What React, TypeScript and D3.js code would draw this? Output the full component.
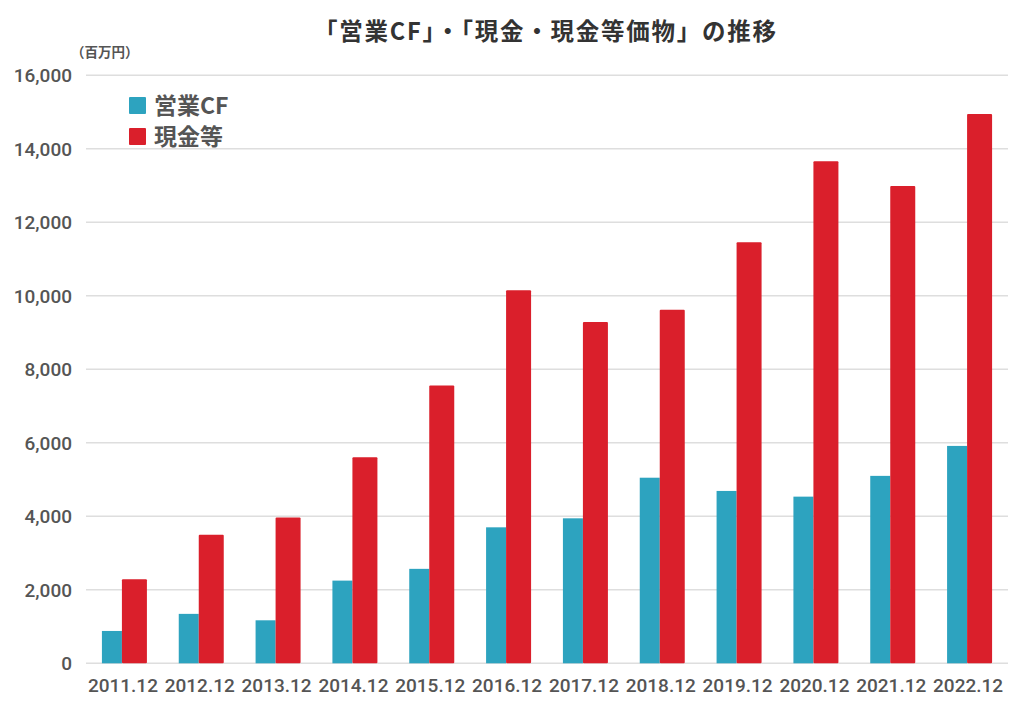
import React from "react";
import * as d3 from "d3";

const categories = ["2011.12","2012.12","2013.12","2014.12","2015.12","2016.12","2017.12","2018.12","2019.12","2020.12","2021.12","2022.12"];
const operatingCF = [880, 1345, 1170, 2250, 2570, 3700, 3945, 5050, 4690, 4535, 5100, 5915];
const cashEq = [2290, 3500, 3970, 5610, 7560, 10150, 9290, 9620, 11455, 13660, 12990, 14945];
const yTicks = [0, 2000, 4000, 6000, 8000, 10000, 12000, 14000, 16000];
const seriesNames = ["営業CF", "現金等"];
const colors = ["#2DA3BF", "#DA1F2B"];
const title = "「営業CF」・「現金・現金等価物」の推移";
const unitLabel = "（百万円）";

const W = 1024, H = 709;
const left = 86, right = 1008, top = 75.3, bottom = 663.3;

export default function App() {
  const x = d3.scaleBand<string>().domain(categories).range([left, right]).padding(0);
  const y = d3.scaleLinear().domain([0, 16000]).range([bottom, top]);
  const fmt = d3.format(",");
  const jp = "'Noto Sans CJK JP', 'Noto Sans', sans-serif";
  const num = "Roboto, 'Liberation Sans', sans-serif";
  return (
    <svg width={W} height={H} style={{ position: "absolute", left: 0, top: 0, background: "#fff" }}>
      <text x={314} y={40} textLength={462} lengthAdjust="spacing" fontFamily={jp} fontWeight={700} fontSize={23.5} fill="#333">{title}</text>
      <text x={71} y={57} fontFamily={jp} fontWeight={700} fontSize={13.5} fill="#555">{unitLabel}</text>
      {yTicks.map((t) => (
        <g key={t}>
          <line x1={left} x2={right} y1={y(t)} y2={y(t)} stroke="#dedede" strokeWidth={1.5} />
          <text x={72} y={y(t) + 6.8} textAnchor="end" fontFamily={num} fontWeight={500} fontSize={19} fill="#555">{fmt(t)}</text>
        </g>
      ))}
      {categories.map((c, i) => {
        const cx = (x(c) as number) + x.bandwidth() / 2;
        return (
          <g key={c}>
            <rect x={cx - 22.5} y={y(operatingCF[i])} width={20} height={y(0) - y(operatingCF[i])} fill={colors[0]} />
            <rect x={cx - 2.5} y={y(cashEq[i])} width={25} height={y(0) - y(cashEq[i])} fill={colors[1]} rx={1} />
            <text x={cx - 1.5} y={692} textAnchor="middle" fontFamily={num} fontWeight={500} fontSize={19} fill="#555">{c}</text>
          </g>
        );
      })}
      {seriesNames.map((s, i) => (
        <g key={s}>
          <rect x={129} y={97 + i * 31} width={17} height={17} fill={colors[i]} rx={1} />
          <text x={154} y={113.5 + i * 31} fontFamily={jp} fontWeight={700} fontSize={23} fill="#555">{s}</text>
        </g>
      ))}
    </svg>
  );
}
